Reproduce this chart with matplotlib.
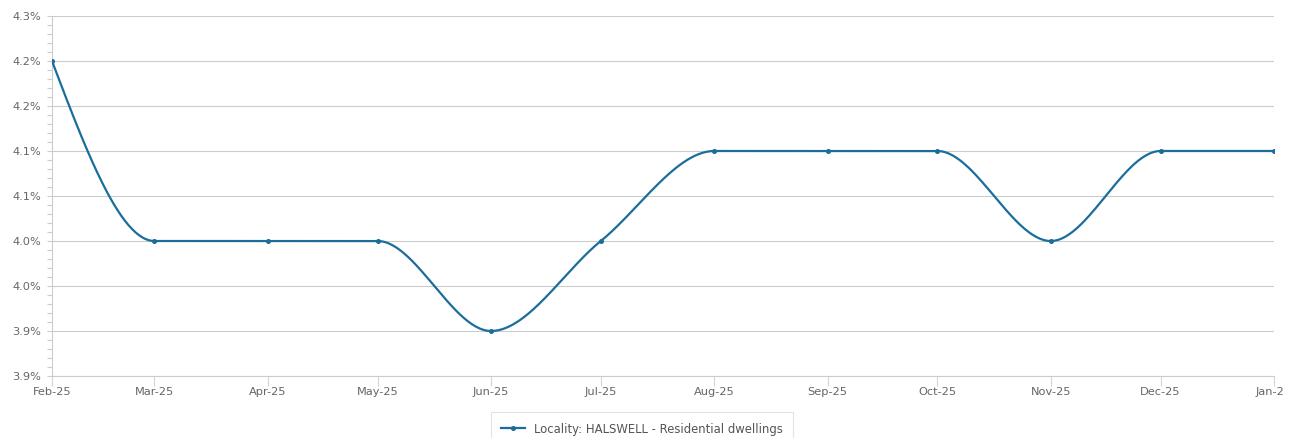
import numpy as np
import pandas as pd
import matplotlib
matplotlib.use("Agg")
import matplotlib.pyplot as plt
import matplotlib.dates as mdates
from matplotlib.ticker import MultipleLocator
from matplotlib.transforms import Bbox

# Data - Locality HALSWELL, residential dwellings
mesice = pd.date_range("2025-02-01", periods=12, freq="MS")
hodnoty = [4.25, 4.05, 4.05, 4.05, 3.95, 4.05, 4.15, 4.15, 4.15, 4.05, 4.15, 4.15]
popisky_x = ["Feb-25", "Mar-25", "Apr-25", "May-25", "Jun-25", "Jul-25",
             "Aug-25", "Sep-25", "Oct-25", "Nov-25", "Dec-25", "Jan-26"]
ticky_y = [3.90, 3.95, 4.00, 4.05, 4.10, 4.15, 4.20, 4.25, 4.30]
popisky_y = ["3.9%", "3.9%", "4.0%", "4.0%", "4.1%", "4.1%", "4.2%", "4.2%", "4.3%"]
nazev_serie = "Locality: HALSWELL - Residential dwellings"

barva = "#1b6d9b"
seda = "#666666"


def monotone_krivka(x, y, n=60):
    # monotone cubic interpolation (like d3 curveMonotoneX)
    x = np.asarray(x, float)
    y = np.asarray(y, float)
    h = np.diff(x)
    s = np.diff(y) / h
    m = np.zeros(len(x))
    for i in range(1, len(x) - 1):
        p = (s[i - 1] * h[i] + s[i] * h[i - 1]) / (h[i - 1] + h[i])
        m[i] = (np.sign(s[i - 1]) + np.sign(s[i])) * min(abs(s[i - 1]), abs(s[i]), 0.5 * abs(p))
    m[0] = (3 * s[0] - m[1]) / 2
    m[-1] = (3 * s[-1] - m[-2]) / 2
    xs, ys = [], []
    for i in range(len(x) - 1):
        t = np.linspace(0, 1, n)
        h00 = 2 * t**3 - 3 * t**2 + 1
        h10 = t**3 - 2 * t**2 + t
        h01 = -2 * t**3 + 3 * t**2
        h11 = t**3 - t**2
        xs.append(x[i] + t * h[i])
        ys.append(h00 * y[i] + h10 * h[i] * m[i] + h01 * y[i + 1] + h11 * h[i] * m[i + 1])
    return np.concatenate(xs), np.concatenate(ys)


x = mdates.date2num(mesice)
kx, ky = monotone_krivka(x, hodnoty)

fig = plt.figure(figsize=(12.99, 4.38), dpi=100)
ax = fig.add_axes([52 / 1299, 62 / 438, 1222 / 1299, 360 / 438])

ax.plot(kx, ky, color=barva, linewidth=1.6, zorder=3)
ax.plot(x, hodnoty, "o", color=barva, markersize=2.6, zorder=4)

ax.set_xlim(x[0], x[-1])
ax.set_ylim(3.90, 4.30)

ax.set_xticks(x, popisky_x)
ax.set_yticks(ticky_y, popisky_y)
ax.yaxis.set_minor_locator(MultipleLocator(0.01))

ax.tick_params(axis="x", length=7, width=0.8, color="#ccd6eb", labelcolor=seda, labelsize=8.2, pad=1)
ax.tick_params(axis="y", which="both", length=3.6, width=0.8, color="#cccccc",
               labelcolor=seda, labelsize=8.2, pad=4)

ax.grid(True, axis="y", which="major", color="#cccccc", linewidth=0.8)
ax.set_axisbelow(True)
for strana in ["top", "right"]:
    ax.spines[strana].set_visible(False)
ax.spines["left"].set_color("#cccccc")
ax.spines["bottom"].set_color("#cccccc")

# last tick label is cut off at the right edge in the original
clip = Bbox.from_extents(0, 0, 1284, 438)
for lbl in ax.get_xticklabels():
    lbl.set_clip_box(clip)
    lbl.set_clip_on(True)

handle = plt.Line2D([], [], color=barva, linewidth=1.6, marker="o", markersize=2.6)
leg = fig.legend([handle], [nazev_serie], loc="upper center",
                 bbox_to_anchor=(642 / 1299, 1 - 412 / 438), fontsize=8.4,
                 frameon=True, fancybox=False, edgecolor="#dddddd",
                 handlelength=2.0, borderpad=0.9, borderaxespad=0,
                 labelcolor="#555555")
leg.get_frame().set_linewidth(0.8)

fig.savefig("out.png", dpi=100)
